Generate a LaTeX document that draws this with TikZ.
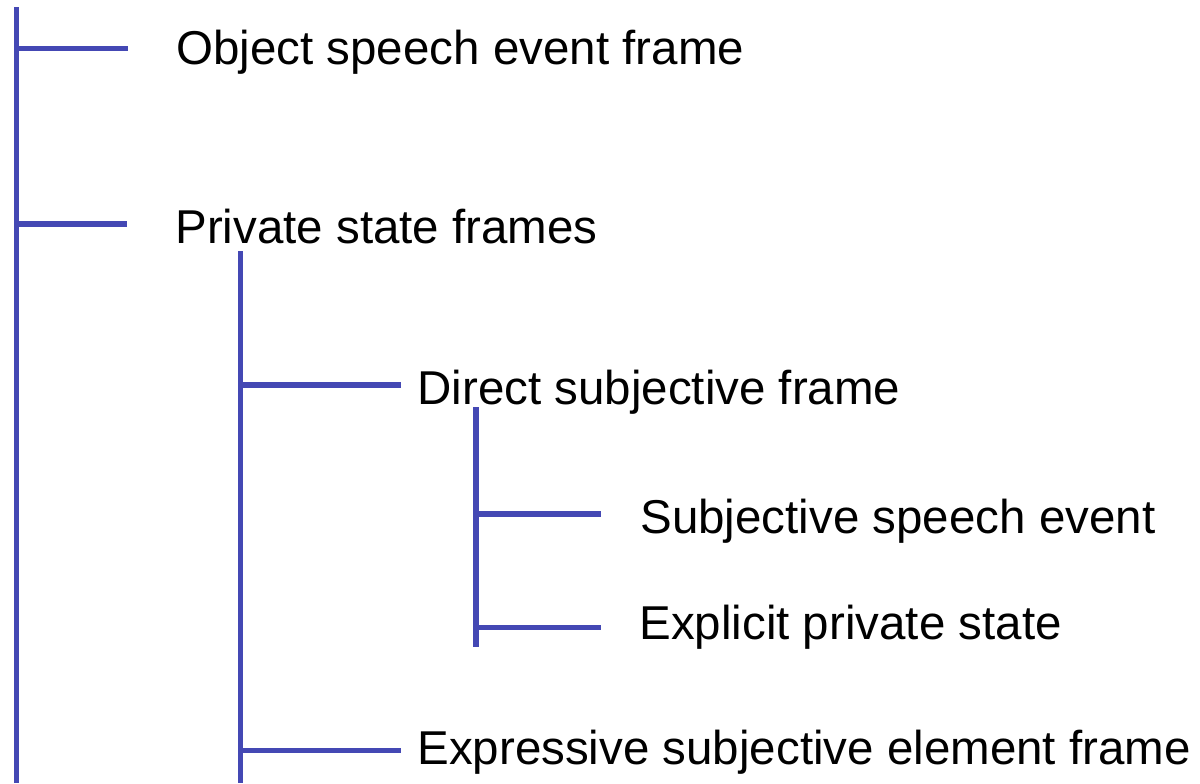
\documentclass[tikz,border=0pt]{standalone}
\usepackage{fontspec}
\setmainfont{Liberation Sans}
\definecolor{tree}{RGB}{68,72,180}
\begin{document}
\begin{tikzpicture}[x=0.5pt,y=-0.5pt,
  branch/.style={draw=tree,line width=2.6pt},
  lbl/.style={anchor=base west,inner sep=0pt,text=black,font=\fontsize{23.75}{28}\selectfont}]
\useasboundingbox (0,0) rectangle (1200,783);
% labels
\node[lbl] (ose) at (176,64) {Object speech event frame};
\node[lbl] (psf) at (175,243) {Private state frames};
\node[lbl] (dsf) at (417,404) {Direct subjective frame};
\node[lbl] (sse) at (640,533) {Subjective speech event};
\node[lbl] (eps) at (639,639) {Explicit private state};
\node[lbl] (esf) at (417,764) {Expressive subjective element frame};
% tree coordinates
\coordinate (v1top) at (16.5,7);
\coordinate (v1bot) at (16.5,783);
\coordinate (v2top) at (240.5,251);
\coordinate (v2bot) at (240.5,783);
\coordinate (v3top) at (476,407);
\coordinate (v3bot) at (476,647);
\coordinate (e1) at (128,48.5);
\coordinate (e2) at (127,224);
\coordinate (e3) at (401,385);
\coordinate (e4) at (601,514);
\coordinate (e5) at (601,627.5);
\coordinate (e6) at (401,750.5);
% vertical spines
\draw[branch] (v1top) -- (v1bot);
\draw[branch] (v2top) -- (v2bot);
\draw[branch] (v3top) -- (v3bot);
% branches
\draw[branch] (v1top |- e1) -- (e1);
\draw[branch] (v1top |- e2) -- (e2);
\draw[branch] (v2top |- e3) -- (e3);
\draw[branch] (v3top |- e4) -- (e4);
\draw[branch] (v3top |- e5) -- (e5);
\draw[branch] (v2top |- e6) -- (e6);
\end{tikzpicture}
\end{document}
